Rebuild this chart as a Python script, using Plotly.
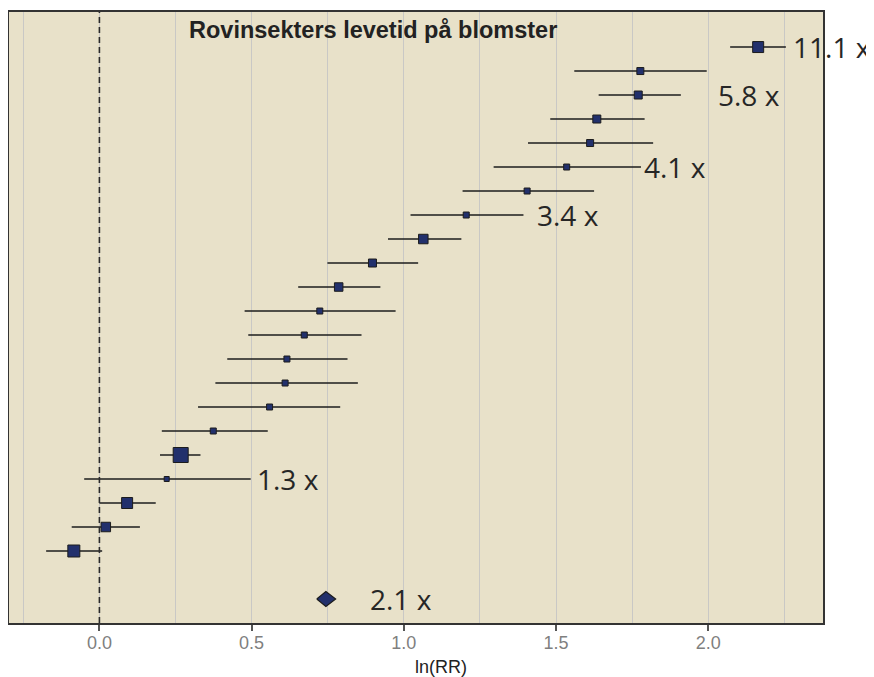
import plotly.graph_objects as go
import numpy as np

# ---- data (ln(RR) per study, top to bottom) ----
rows = list(range(23, 1, -1))  # row positions, top study = 23
est = [2.164, 1.777, 1.770, 1.634, 1.612, 1.535, 1.405, 1.205, 1.064, 0.897, 0.786,
       0.724, 0.673, 0.616, 0.610, 0.559, 0.374, 0.267, 0.221, 0.091, 0.021, -0.084]
ci_lo = [2.072, 1.560, 1.640, 1.481, 1.408, 1.295, 1.193, 1.022, 0.948, 0.749, 0.653,
         0.477, 0.489, 0.420, 0.381, 0.324, 0.205, 0.199, -0.050, 0.000, -0.091, -0.175]
ci_hi = [2.255, 1.995, 1.910, 1.791, 1.819, 1.779, 1.625, 1.393, 1.189, 1.047, 0.923,
         0.973, 0.861, 0.815, 0.849, 0.791, 0.553, 0.332, 0.497, 0.185, 0.133, 0.009]
weight_size = [11, 7, 8, 8, 7, 6, 6, 6, 9.5, 8, 8.5, 6, 6, 6, 6, 6, 6, 15, 5, 11, 9.5, 12]

# summary estimate
sum_row = 0
sum_est = 0.744
sum_lo = 0.714
sum_hi = 0.776

# text labels (fold change)
label_text = ["11.1 x", "5.8 x", "4.1 x", "3.4 x", "1.3 x", "2.1 x"]
label_x = [2.272, 2.024, 1.783, 1.432, 0.510, 0.881]
label_row = [23, 21, 18, 16, 5, 0]

tick_vals = [0.0, 0.5, 1.0, 1.5, 2.0]
tick_text = ["0.0", "0.5", "1.0", "1.5", "2.0"]

title_text = "Rovinsekters levetid på blomster"
x_title = "ln(RR)"

# ---- styles ----
navy = "#22306c"
ink = "#1c1c1c"
bg = "#E8E1C9"
grid = "#C9C8C5"

est_a = np.array(est)
lo_a = np.array(ci_lo)
hi_a = np.array(ci_hi)

fig = go.Figure()

fig.add_trace(go.Scatter(
    x=est, y=rows, mode="markers",
    marker=dict(symbol="square", size=weight_size, color=navy, opacity=1,
                line=dict(color=ink, width=1)),
    error_x=dict(type="data", symmetric=False,
                 array=(hi_a - est_a).tolist(), arrayminus=(est_a - lo_a).tolist(),
                 width=0, thickness=1.6, color=ink),
    hoverinfo="x+y"
))

half_h = 0.31
fig.add_trace(go.Scatter(
    x=[sum_lo, sum_est, sum_hi, sum_est, sum_lo],
    y=[sum_row, sum_row + half_h, sum_row, sum_row - half_h, sum_row],
    mode="lines", fill="toself", fillcolor=navy,
    line=dict(color=ink, width=1.2)
))

fig.add_shape(type="line", x0=0, x1=0, xref="x", y0=0, y1=1, yref="paper",
              line=dict(color="#2b2b2b", width=1.6, dash="6px,4px"), layer="above")

for t, xv, r in zip(label_text, label_x, label_row):
    fig.add_annotation(x=xv, y=r, xref="x", yref="y", text=t, showarrow=False,
                       xanchor="left", yanchor="middle",
                       font=dict(family="Open Sans", size=28, color="#262626"))

fig.add_annotation(x=0.90, y=0.9705, xref="x", yref="paper", text="<b>" + title_text + "</b>",
                   showarrow=False, xanchor="center", yanchor="middle",
                   font=dict(family="Liberation Sans", size=23.5, color="#222222"))

fig.add_annotation(x=1.123, y=-0.072, xref="x", yref="paper", text=x_title,
                   showarrow=False, xanchor="center", yanchor="middle",
                   font=dict(family="Liberation Sans", size=18, color="#222222"))

fig.update_layout(
    width=866, height=669,
    margin=dict(l=1, r=51, t=4, b=54),
    plot_bgcolor=bg, paper_bgcolor="white",
    showlegend=False,
    xaxis=dict(range=[-0.297, 2.377], tickvals=tick_vals, ticktext=tick_text,
               ticks="outside", ticklen=6, tickwidth=1.5, tickcolor="#555555",
               ticklabelstandoff=-4,
               showgrid=True, gridcolor=grid, gridwidth=1.4,
               minor=dict(dtick=0.25, tick0=0, showgrid=True, gridcolor=grid, gridwidth=1.4, ticks=""),
               showline=True, mirror=True, linecolor="#333333", linewidth=2,
               zeroline=False,
               tickfont=dict(family="Liberation Sans", size=18, color="#7f7f7f")),
    yaxis=dict(range=[-1, 24.46], showticklabels=False, showgrid=False, zeroline=False,
               ticks="", showline=True, mirror=True, linecolor="#333333", linewidth=2),
)

fig.write_html("out.html")
